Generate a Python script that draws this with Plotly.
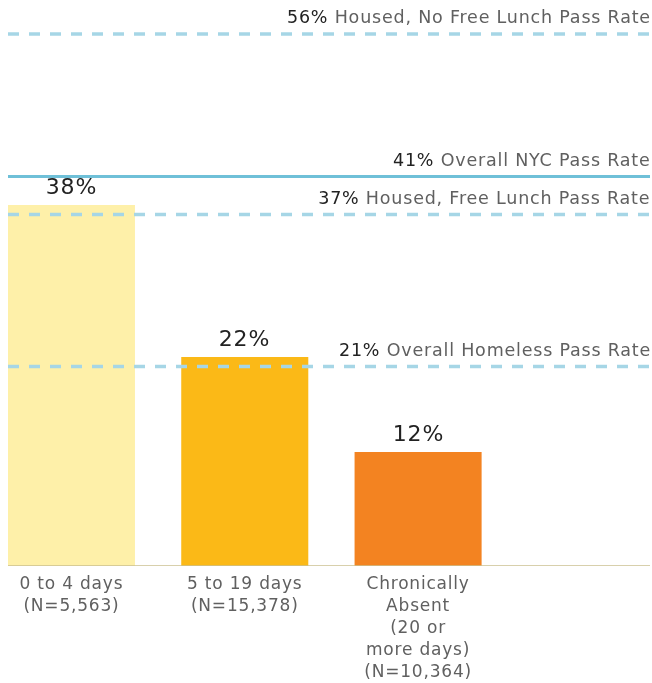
import plotly.graph_objects as go

categories = ["0 to 4 days<br>(N=5,563)", "5 to 19 days<br>(N=15,378)",
              "Chronically<br>Absent<br>(20 or<br>more days)<br>(N=10,364)"]
pass_rates = [38, 22, 12]
bar_colors = ["#FEF0A9", "#FBB917", "#F38321"]

ref_values = [56, 41, 37, 21]
ref_labels = ["Housed, No Free Lunch Pass Rate", "Overall NYC Pass Rate",
              "Housed, Free Lunch Pass Rate", "Overall Homeless Pass Rate"]
ref_dashed = [True, False, True, True]

x_pos = list(range(len(categories)))
FONT = "DejaVu Sans"
SPACING = 0.8  # letter spacing in px applied after render

fig = go.Figure()
fig.add_trace(go.Bar(x=x_pos, y=pass_rates, width=0.733,
                     marker=dict(color=bar_colors, line=dict(width=0)),
                     hoverinfo="skip"))

shapes = []
annotations = []
for v, lab, d in zip(ref_values, ref_labels, ref_dashed):
    if d:
        line = dict(color="#A6D6E6", width=3.5, dash="11px,10px")
    else:
        line = dict(color="#6FC0D8", width=3)
    shapes.append(dict(type="line", xref="paper", yref="y", x0=0, x1=1, y0=v, y1=v,
                       line=line, layer="above"))
    plain = f"{v}% {lab}"
    annotations.append(dict(xref="paper", yref="y", x=1, y=v, xanchor="right", yanchor="bottom",
                            yshift=5, xshift=-(len(plain) * SPACING / 2) + 3, showarrow=False,
                            text=f"<span style='color:#222'>{v}%</span> {lab}",
                            font=dict(family=FONT, size=17.5, color="#606060")))

for x, v in zip(x_pos, pass_rates):
    annotations.append(dict(xref="x", yref="y", x=x, y=v, xanchor="center", yanchor="bottom",
                            yshift=4, showarrow=False, text=f"{v}%",
                            font=dict(family=FONT, size=22, color="#222")))

shapes.append(dict(type="line", xref="paper", yref="y", x0=0, x1=1, y0=0, y1=0,
                   line=dict(color="#CBC190", width=1.5), layer="above"))

fig.update_layout(
    width=652, height=683,
    margin=dict(l=8, r=2, t=8, b=117),
    plot_bgcolor="white", paper_bgcolor="white",
    showlegend=False,
    shapes=shapes, annotations=annotations,
    xaxis=dict(range=[-0.366, 3.338], tickvals=x_pos, ticktext=categories,
               showgrid=False, zeroline=False, showline=False, ticks="",
               ticklabelstandoff=5, automargin=False,
               tickfont=dict(family=FONT, size=17, color="#606060"), fixedrange=True),
    yaxis=dict(range=[0, 58.74], showgrid=False, zeroline=False, showline=False,
               showticklabels=False, automargin=False, fixedrange=True),
)

post = """
document.documentElement.style.overflow='hidden';
document.documentElement.style.margin='0';
document.body.style.overflow='hidden';
document.body.style.margin='0';
document.querySelectorAll('.shapelayer path').forEach(function(p){p.style.mixBlendMode='multiply';});
document.querySelectorAll('.xtick text').forEach(function(t){t.style.letterSpacing='%spx';});
document.querySelectorAll('.annotation-text').forEach(function(t){t.style.letterSpacing='%spx';});
""" % (SPACING, SPACING)
fig.write_html("out.html", post_script=post, config={"displayModeBar": False})
